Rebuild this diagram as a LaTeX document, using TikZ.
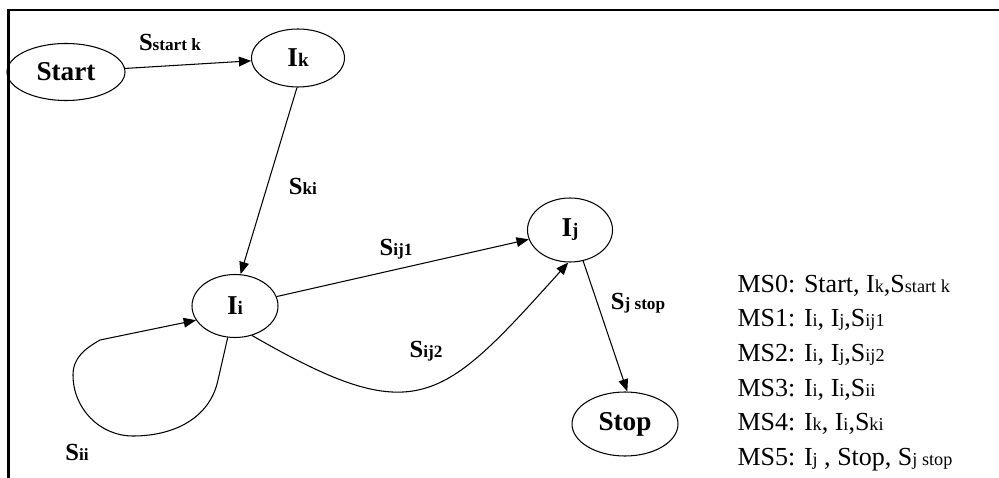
\documentclass[tikz,border=0pt]{standalone}
\usepackage{fontspec}
\setmainfont{Liberation Serif}
\usepackage{graphicx}
\usepackage{tikz}
\usetikzlibrary{shapes.geometric,arrows.meta}

\newcommand{\lo}[1]{\scalebox{0.7}{#1}}

\begin{document}
\begin{tikzpicture}[->,>={Triangle[length=7pt,width=5.5pt]},line width=0.6pt,
statenode/.style={ellipse,draw,inner sep=0pt,font=\fontsize{15.5}{18}\selectfont\bfseries},
edgelabel/.style={inner sep=0pt,font=\fontsize{14}{16}\selectfont\bfseries},
legendline/.style={anchor=base west,inner sep=0pt,font=\fontsize{14.8}{17}\selectfont}]

\useasboundingbox (0,0) rectangle (19.98,-9.56);
\draw[-,line width=1.5pt] (19.98,-0.20) -- (0.17,-0.20) -- (0.17,-9.56);

\node [statenode,minimum width=2.36cm,minimum height=1.14cm] (start) at (1.32, -1.44) {Start};
\node [statenode,minimum width=1.86cm,minimum height=1.16cm] (ik) at (5.96, -1.16) {I\lo{k}};
\node [statenode,minimum width=1.72cm,minimum height=1.26cm] (ii) at (4.70, -6.12) {I\lo{i}};
\node [statenode,minimum width=1.70cm,minimum height=1.28cm] (ij) at (11.40, -4.60) {I\lo{j}};
\node [statenode,minimum width=2.12cm,minimum height=1.28cm] (stop) at (12.50, -8.48) {Stop};

\node [edgelabel] (lstartk) at (3.40, -0.84) {S\lo{start k}};
\node [edgelabel] (lki) at (6.06, -3.72) {S\lo{ki}};
\node [edgelabel] (lij1) at (7.92, -4.98) {S\lo{ij1}};
\node [edgelabel] (lij2) at (8.52, -7.02) {S\lo{ij2}};
\node [edgelabel] (ljstop) at (12.76, -6.06) {S\lo{j stop}};
\node [edgelabel] (lii) at (1.54, -9.04) {S\lo{ii}};

\coordinate (loopR) at (4.36, -7.60);
\coordinate (loopB) at (2.66, -8.72);
\coordinate (loopL) at (1.46, -7.50);
\coordinate (loopT) at (2.00, -6.80);

\draw (start) to (ik);
\draw (ik.-92) to (ii.80);
\draw (ii) to (ij);
\draw (ii.-60) to[out=-30,in=-132,looseness=1.5] (ij.-93);
\draw (ij.-67) to (stop.86);
\draw (ii.-103) -- (loopR) to[out=-102,in=0] (loopB) to[out=180,in=-90] (loopL) to[out=90,in=-150] (loopT) -- (ii.200);

\node [legendline] (ms0) at (14.74, -5.84) {MS0: Start, I\lo{k},S\lo{start k}};
\node [legendline] (ms1) at (14.74, -6.53) {MS1: I\lo{i}, I\lo{j},S\lo{ij1}};
\node [legendline] (ms2) at (14.74, -7.22) {MS2: I\lo{i}, I\lo{j},S\lo{ij2}};
\node [legendline] (ms3) at (14.74, -7.92) {MS3: I\lo{i}, I\lo{i},S\lo{ii}};
\node [legendline] (ms4) at (14.74, -8.61) {MS4: I\lo{k}, I\lo{i},S\lo{ki}};
\node [legendline] (ms5) at (14.74, -9.30) {MS5: I\lo{j} , Stop, S\lo{j stop}};
\end{tikzpicture}
\end{document}
